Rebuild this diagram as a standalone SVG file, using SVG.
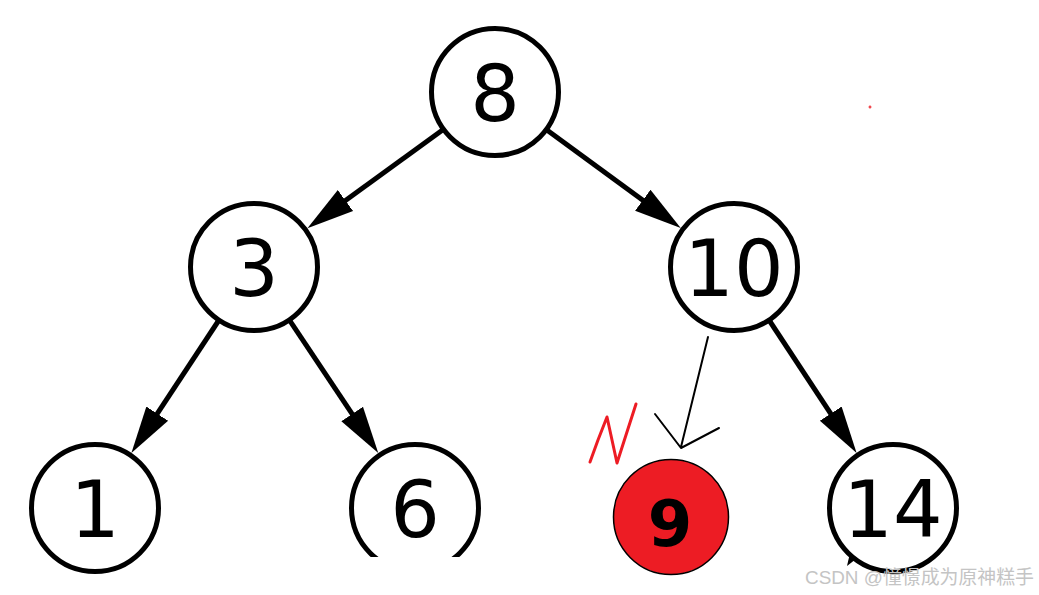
<svg xmlns="http://www.w3.org/2000/svg" width="1039" height="595" viewBox="0 0 1039 595">
<style>
.node circle{fill:#fff;stroke:#000;stroke-width:5}
.node text{font-family:"DejaVu Sans",sans-serif;font-size:78px;text-anchor:middle;fill:#000}
.edge{stroke:#000;stroke-width:5;fill:none;marker-end:url(#ah)}
.hand{stroke:#000;stroke-width:2;fill:none;stroke-linecap:round;stroke-linejoin:round}
</style>
<defs>
<marker id="ah" markerUnits="userSpaceOnUse" markerWidth="50" markerHeight="30" viewBox="0 -15 50 30" refX="17" refY="0" orient="auto">
<path d="M0,-13 L47,0 L0,13 z" fill="#000"/>
</marker>
<clipPath id="clip6"><rect x="330" y="420" width="170" height="137"/></clipPath>
</defs>
<rect width="1039" height="595" fill="#fff"/>
<g id="connectors">
<line class="edge" x1="443.6" y1="129.3" x2="331.7" y2="210.6"/>
<line class="edge" x1="546.2" y1="129.5" x2="656.5" y2="210.3"/>
<line class="edge" x1="219" y1="320" x2="147.9" y2="427.9"/>
<line class="edge" x1="289.3" y1="319.8" x2="361.6" y2="428.1"/>
<line class="edge" x1="769" y1="320" x2="840.1" y2="427.9"/>
<path class="hand" d="M708,337 L681,447 M655,414 L681,448 L719,428"/>
</g>
<g id="node-8" class="node"><circle cx="495" cy="92" r="63.5"/><text x="495" y="121">8</text></g>
<g id="node-3" class="node"><circle cx="254" cy="267" r="63.5"/><text x="254" y="296">3</text></g>
<g id="node-10" class="node"><circle cx="734" cy="267" r="63.5"/><text x="734" y="296">10</text></g>
<g id="node-1" class="node"><circle cx="95" cy="508" r="63.5"/><text x="95" y="537">1</text></g>
<g id="node-6" class="node" clip-path="url(#clip6)"><circle cx="415" cy="508" r="63.5"/><text x="415" y="537">6</text></g>
<g id="node-14" class="node"><circle cx="893" cy="508" r="63.5"/><text x="893" y="537">14</text><path d="M847,566 L850,553 L856,559 z" fill="#000"/></g>
<g id="node-9"><circle cx="671" cy="517" r="57.5" fill="#ED1C24" stroke="#000" stroke-width="1.5"/><text x="670" y="546" font-family="DejaVu Sans,sans-serif" font-weight="bold" font-size="64" text-anchor="middle" fill="#000">9</text></g>
<g id="annotations">
<polyline points="590,462 598,440 607,417 612,440 617,463 626,435 636,404" fill="none" stroke="#ED1C24" stroke-width="3" stroke-linecap="round" stroke-linejoin="round"/>
<path d="M868.5,107 H871.5 M870,105.5 V108.5" stroke="#ED1C24" stroke-width="1.2"/>
</g>
<text x="805" y="584" font-family="Liberation Sans,Noto Sans CJK SC,sans-serif" font-size="19" fill="#c4c4c4" textLength="229" lengthAdjust="spacingAndGlyphs">CSDN @憧憬成为原神糕手</text>
</svg>
